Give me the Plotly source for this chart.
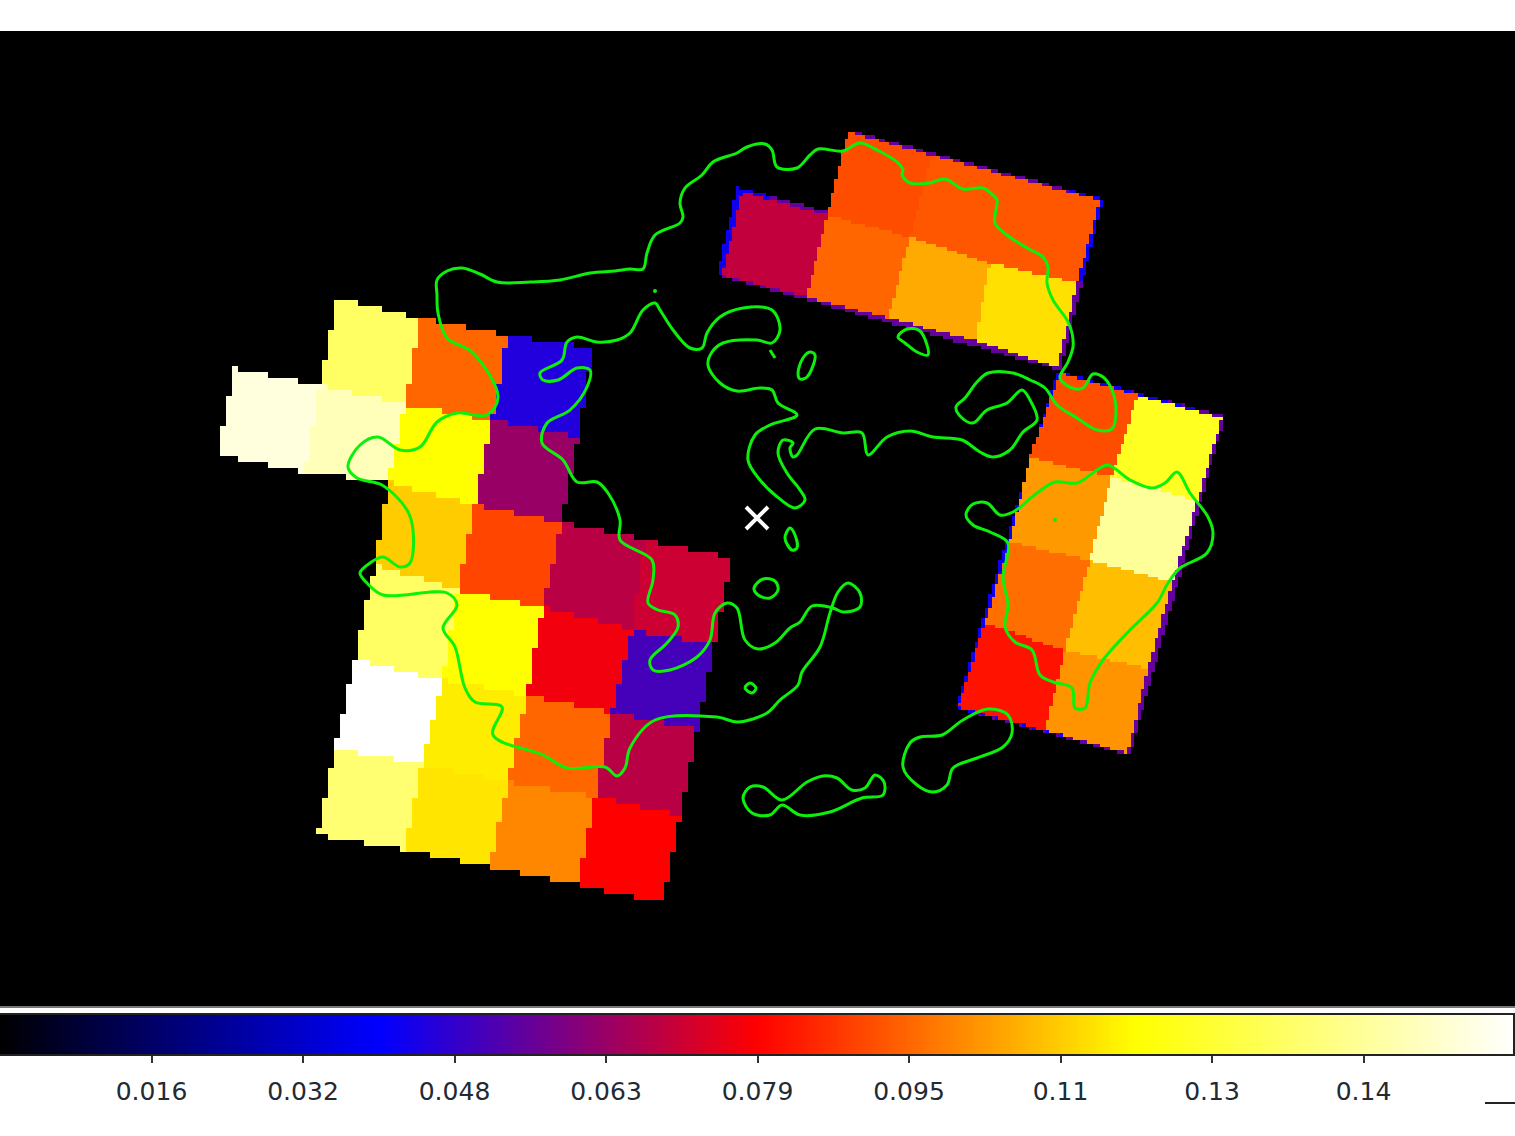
"""
Flux map of three tilted detector footprints with green contours and a DS9 "b" colour bar.
The tiles are rasterised to the coarse image pixels so the stepped edges stay visible.
"""

import numpy as np
import plotly.graph_objects as go

WIDTH = 1515
HEIGHT = 1136
IMAGE_TOP = 31
IMAGE_BOTTOM = 1006
BAR_TOP = 1015
BAR_BOTTOM = 1054
BAR_RIGHT = 1513

FLUX_MAX = 0.158
B_COLORSCALE = [
    [0.0, "#000000"],
    [0.25, "#0000ff"],
    [0.5, "#ff0000"],
    [0.75, "#ffff00"],
    [1.0, "#ffffff"],
]

TICK_VALUES = [0.0158, 0.0316, 0.0474, 0.0632, 0.079, 0.0948, 0.1106, 0.1264, 0.1422]
TICK_LABELS = ["0.016", "0.032", "0.048", "0.063", "0.079", "0.095", "0.11", "0.13", "0.14"]

# Left footprint: one quad (image pixels) and one flux per tile
LEFT_TILES = [
    [(337, 297), (421, 318), (405, 405), (320, 385)],
    [(421, 318), (508, 335), (492, 420), (405, 405)],
    [(508, 335), (593, 348), (578, 437), (492, 420)],
    [(235, 368), (320, 385), (305, 472), (217, 455)],
    [(320, 385), (405, 405), (388, 482), (305, 472)],
    [(405, 405), (492, 420), (475, 505), (388, 482)],
    [(492, 420), (578, 437), (562, 522), (475, 505)],
    [(388, 482), (475, 505), (458, 590), (375, 565)],
    [(475, 505), (562, 522), (543, 607), (458, 590)],
    [(562, 522), (645, 540), (632, 630), (543, 607)],
    [(645, 540), (732, 558), (715, 645), (632, 630)],
    [(375, 565), (458, 590), (443, 680), (355, 660)],
    [(458, 590), (543, 607), (527, 695), (443, 680)],
    [(543, 607), (632, 630), (612, 712), (527, 695)],
    [(632, 630), (715, 645), (698, 730), (612, 712)],
    [(355, 660), (443, 680), (422, 765), (335, 748)],
    [(443, 680), (527, 695), (508, 782), (422, 765)],
    [(527, 695), (612, 712), (595, 797), (508, 782)],
    [(612, 712), (698, 730), (680, 815), (595, 797)],
    [(335, 748), (422, 765), (405, 850), (318, 835)],
    [(422, 765), (508, 782), (490, 867), (405, 850)],
    [(508, 782), (595, 797), (578, 885), (490, 867)],
    [(595, 797), (680, 815), (663, 903), (578, 885)],
]
LEFT_FLUX = [
    0.134, 0.0948, 0.0447, 0.1529, 0.1473, 0.1185, 0.0632, 0.1106, 0.0897, 0.0683, 0.0711,
    0.134, 0.1185, 0.077, 0.0502, 0.158, 0.1157, 0.0948, 0.0683, 0.136, 0.1145, 0.0999, 0.079,
]

# Top footprint: purple rim, two blue rim stretches, then the tiles on top
TOP_TILES = [
    [(737, 187), (829, 212), (849, 130), (1103, 199), (1060, 370), (717, 275)],
    [(737, 187), (770, 196), (750, 280), (717, 275)],
    [(1070, 190), (1103, 199), (1082, 283), (1050, 275)],
    [(742, 192), (827, 215), (807, 297), (722, 275)],
    [(848, 132), (932, 155), (910, 237), (827, 215)],
    [(932, 155), (1016, 178), (990, 263), (910, 237)],
    [(1016, 178), (1100, 200), (1077, 283), (990, 263)],
    [(827, 215), (910, 237), (888, 318), (807, 297)],
    [(910, 237), (990, 263), (975, 340), (888, 318)],
    [(990, 263), (1077, 283), (1057, 368), (975, 340)],
]
TOP_FLUX = [0.055, 0.042, 0.042, 0.0695, 0.0909, 0.0925, 0.0925, 0.0948, 0.1053, 0.1137]

# Right footprint: purple rim, blue left stretch, then the tiles on top
RIGHT_TILES = [
    [(1057, 371), (1225, 416), (1130, 755), (956, 708)],
    [(1057, 371), (1200, 410), (1100, 745), (956, 708)],
    [(1060, 373), (1138, 395), (1112, 477), (1030, 457)],
    [(1030, 457), (1112, 477), (1090, 560), (1010, 542)],
    [(1010, 542), (1090, 560), (1065, 650), (985, 623)],
    [(985, 623), (1065, 650), (1045, 730), (958, 707)],
    [(1138, 395), (1222, 418), (1198, 500), (1112, 477)],
    [(1112, 477), (1198, 500), (1173, 582), (1090, 560)],
    [(1090, 560), (1173, 582), (1148, 668), (1065, 650)],
    [(1065, 650), (1148, 668), (1128, 753), (1045, 730)],
]
RIGHT_FLUX = [0.055, 0.042, 0.0909, 0.1027, 0.096, 0.0818, 0.1236, 0.1422, 0.1086, 0.1019]

CONTOUR_MAIN = [
    (437, 295), (437, 280), (447, 271), (462, 268), (480, 274), (497, 282), (530, 282), (560, 280),
    (590, 273), (615, 271), (630, 269), (643, 269), (647, 253), (655, 235), (680, 223), (683, 217),
    (680, 203), (685, 188), (702, 175), (713, 162), (737, 153), (747, 147), (765, 144), (772, 150),
    (777, 167), (797, 168), (810, 155), (818, 149), (843, 151), (860, 143), (877, 150), (897, 162),
    (903, 170), (902, 175), (910, 183), (930, 183), (945, 179), (963, 189), (983, 188), (993, 195),
    (997, 200), (995, 223), (1007, 235), (1027, 248), (1043, 257), (1048, 267), (1047, 283),
    (1053, 300), (1067, 320), (1072, 333), (1073, 347), (1068, 362), (1060, 378), (1072, 388),
    (1083, 388), (1093, 374), (1103, 377), (1112, 390), (1116, 410), (1112, 429), (1097, 430),
    (1077, 418), (1057, 405), (1045, 388), (1030, 380), (1013, 373), (988, 373), (977, 382),
    (965, 398), (956, 407), (962, 418), (973, 423), (987, 410), (1007, 403), (1022, 390), (1030, 400),
    (1037, 420), (1023, 432), (1010, 450), (993, 457), (980, 452), (962, 440), (933, 437), (910, 431),
    (887, 437), (868, 455), (862, 433), (843, 433), (815, 429), (797, 455), (793, 457), (790, 448),
    (793, 443), (783, 440), (778, 453), (787, 473), (800, 490), (805, 500), (795, 508), (775, 495),
    (760, 480), (748, 460), (755, 435), (770, 425), (797, 415), (778, 403), (772, 390), (760, 388),
    (737, 391), (720, 383), (708, 365), (712, 352), (723, 343), (757, 340), (772, 343), (780, 330),
    (772, 310), (743, 308), (720, 317), (707, 333), (702, 348), (690, 348), (673, 330), (660, 310),
    (655, 303), (643, 310), (630, 333), (617, 340), (597, 342), (577, 337), (567, 342), (562, 360),
    (540, 373), (543, 380), (558, 380), (577, 368), (590, 370), (587, 387), (570, 410), (547, 423),
    (542, 443), (563, 460), (577, 482), (597, 482), (608, 493), (620, 520), (620, 540), (652, 560),
    (653, 580), (648, 603), (658, 610), (675, 615), (678, 627), (667, 643), (650, 660), (653, 670),
    (670, 670), (697, 657), (710, 640), (715, 613), (727, 603), (737, 608), (745, 640), (758, 649),
    (775, 643), (790, 628), (800, 622), (812, 606), (833, 608), (843, 612), (860, 607), (860, 593),
    (848, 583), (838, 592), (830, 613), (820, 647), (802, 672), (798, 685), (780, 700), (767, 713),
    (738, 722), (717, 717), (655, 720), (630, 748), (625, 768), (617, 776), (605, 767), (567, 768),
    (543, 755), (493, 735), (502, 707), (475, 702), (465, 688), (455, 647), (443, 628), (457, 605),
    (447, 593), (383, 595), (367, 583), (360, 573), (370, 563), (383, 557), (400, 567), (410, 563),
    (413, 530), (407, 510), (382, 485), (357, 478), (348, 467), (360, 445), (378, 437), (400, 450),
    (420, 447), (437, 422), (457, 413), (487, 415), (498, 397), (473, 353), (447, 338), (438, 313),
    (437, 295),
]
CONTOUR_RIGHT = [
    (1108, 465), (1097, 470), (1077, 483), (1055, 482), (1037, 493), (1013, 512), (1000, 515),
    (987, 503), (973, 504), (966, 515), (973, 525), (990, 532), (1008, 543), (1003, 577), (1008, 605),
    (1005, 627), (1015, 642), (1032, 650), (1040, 675), (1053, 682), (1072, 688), (1075, 708),
    (1085, 708), (1090, 683), (1103, 660), (1130, 630), (1157, 603), (1168, 583), (1180, 568),
    (1207, 553), (1213, 533), (1208, 517), (1190, 493), (1177, 472), (1165, 483), (1152, 488),
    (1130, 480), (1108, 465),
]
CONTOUR_BLOB = [
    (988, 709), (1008, 715), (1012, 733), (1003, 747), (977, 758), (953, 768), (947, 785), (933, 792),
    (917, 785), (903, 767), (910, 743), (920, 737), (942, 735), (963, 720), (988, 709),
]
CONTOUR_LOBES = [
    (782, 800), (763, 787), (750, 787), (743, 798), (752, 813), (770, 815), (782, 805), (800, 815),
    (830, 812), (862, 798), (883, 795), (884, 782), (875, 775), (865, 788), (852, 790), (837, 778),
    (823, 776), (807, 782), (782, 800),
]
CONTOUR_OVAL = [(790, 528), (785, 538), (792, 550), (797, 548), (795, 535), (790, 528)]
CONTOUR_RING = [(754, 588), (763, 579), (775, 581), (778, 590), (770, 598), (758, 595), (754, 588)]
CONTOUR_SMALL = [(745, 688), (750, 683), (756, 688), (752, 693), (745, 688)]
CONTOUR_SLIVER = [(810, 352), (815, 355), (807, 377), (800, 379), (798, 373), (803, 358), (810, 352)]
CONTOUR_DROP = [(898, 337), (907, 329), (920, 331), (928, 355), (917, 352), (905, 343), (898, 337)]
CONTOUR_STUB = [(770, 350), (775, 358)]
CONTOURS = [
    CONTOUR_MAIN, CONTOUR_RIGHT, CONTOUR_BLOB, CONTOUR_LOBES, CONTOUR_OVAL,
    CONTOUR_RING, CONTOUR_SMALL, CONTOUR_SLIVER, CONTOUR_DROP, CONTOUR_STUB,
]
DOTS_X = [655, 1055]
DOTS_Y = [291, 520]

SOURCE_X = [757]
SOURCE_Y = [518]


def inside(px, py, quad):
    """Even-odd point-in-polygon test on pixel-centre grids."""
    hit = np.zeros(px.shape, dtype=bool)
    for (x0, y0), (x1, y1) in zip(quad, quad[1:] + quad[:1]):
        if y0 == y1:
            continue
        crosses = (y0 > py) != (y1 > py)
        hit ^= crosses & (px < x0 + (py - y0) * (x1 - x0) / (y1 - y0))
    return hit


def rasterize(tiles, flux, pixel):
    xs = [p[0] for t in tiles for p in t]
    ys = [p[1] for t in tiles for p in t]
    x = np.arange(min(xs), max(xs) + pixel, pixel)
    y = np.arange(min(ys), max(ys) + pixel, pixel)
    px, py = np.meshgrid(x, y)
    z = np.full(px.shape, np.nan)
    for quad, value in zip(tiles, flux):
        z[inside(px, py, quad)] = value
    return x, y, z


fig = go.Figure()

for tiles, flux, pixel in [(LEFT_TILES, LEFT_FLUX, 6), (TOP_TILES, TOP_FLUX, 3.4), (RIGHT_TILES, RIGHT_FLUX, 3.4)]:
    x, y, z = rasterize(tiles, flux, pixel)
    fig.add_trace(
        go.Heatmap(
            x=x, y=y, z=z,
            zmin=0, zmax=FLUX_MAX,
            colorscale=B_COLORSCALE,
            showscale=False,
            hoverongaps=False,
            xaxis="x", yaxis="y",
        )
    )

for contour in CONTOURS:
    fig.add_trace(
        go.Scatter(
            x=[p[0] for p in contour],
            y=[p[1] for p in contour],
            mode="lines",
            line=dict(color="#0cf00c", width=3, shape="spline", smoothing=1.0),
            showlegend=False,
            hoverinfo="skip",
            xaxis="x", yaxis="y",
        )
    )

fig.add_trace(
    go.Scatter(
        x=DOTS_X, y=DOTS_Y,
        mode="markers",
        marker=dict(color="#0cf00c", size=4),
        showlegend=False,
        hoverinfo="skip",
        xaxis="x", yaxis="y",
    )
)

fig.add_trace(
    go.Scatter(
        x=SOURCE_X, y=SOURCE_Y,
        mode="markers",
        marker=dict(symbol="x-thin", size=22, line=dict(color="white", width=4)),
        showlegend=False,
        hoverinfo="skip",
        xaxis="x", yaxis="y",
    )
)

# Colour bar as its own small subplot, so the ticks sit on a real flux axis
bar_values = np.linspace(0, FLUX_MAX, 512)
fig.add_trace(
    go.Heatmap(
        x=bar_values, y=[0, 1], z=[bar_values, bar_values],
        zmin=0, zmax=FLUX_MAX,
        colorscale=B_COLORSCALE,
        showscale=False,
        xaxis="x2", yaxis="y2",
    )
)

fig.update_layout(
    width=WIDTH,
    height=HEIGHT,
    autosize=False,
    margin=dict(l=0, r=0, t=0, b=0),
    paper_bgcolor="#FFFFFF",
    plot_bgcolor="#000000",
    showlegend=False,
    font=dict(family="DejaVu Sans, Arial, sans-serif", size=25, color="#222a33"),
    xaxis=dict(
        range=[0, WIDTH],
        domain=[0, 1],
        showgrid=False,
        zeroline=False,
        showticklabels=False,
        ticks="",
        showline=True,
        linecolor="#777777",
        linewidth=2,
    ),
    yaxis=dict(
        range=[IMAGE_BOTTOM, IMAGE_TOP],
        domain=[1 - IMAGE_BOTTOM / HEIGHT, 1 - IMAGE_TOP / HEIGHT],
        showgrid=False,
        zeroline=False,
        showticklabels=False,
        ticks="",
    ),
    xaxis2=dict(
        range=[0, FLUX_MAX * BAR_RIGHT / WIDTH],
        domain=[0, BAR_RIGHT / WIDTH],
        anchor="y2",
        tickmode="array",
        tickvals=TICK_VALUES,
        ticktext=TICK_LABELS,
        ticks="outside",
        ticklen=7,
        tickwidth=2,
        tickcolor="#333333",
        ticklabelstandoff=7,
        showgrid=False,
        zeroline=False,
        showline=True,
        linecolor="#222222",
        linewidth=2,
        mirror=True,
    ),
    yaxis2=dict(
        range=[0, 1],
        domain=[1 - BAR_BOTTOM / HEIGHT, 1 - BAR_TOP / HEIGHT],
        anchor="x2",
        showgrid=False,
        zeroline=False,
        showticklabels=False,
        ticks="",
        showline=True,
        linecolor="#222222",
        linewidth=2,
        mirror=True,
    ),
    shapes=[
        dict(
            type="line", xref="paper", yref="paper",
            x0=1485 / WIDTH, x1=1,
            y0=1 - 1103 / HEIGHT, y1=1 - 1103 / HEIGHT,
            line=dict(color="#222222", width=2),
        )
    ],
)

# The browser's default body margin would push the figure 8 px off the page
fig.write_html(
    "out.html",
    config={"displayModeBar": False, "responsive": False},
    post_script="document.body.style.margin = '0'; document.documentElement.style.overflow = 'hidden';",
)
